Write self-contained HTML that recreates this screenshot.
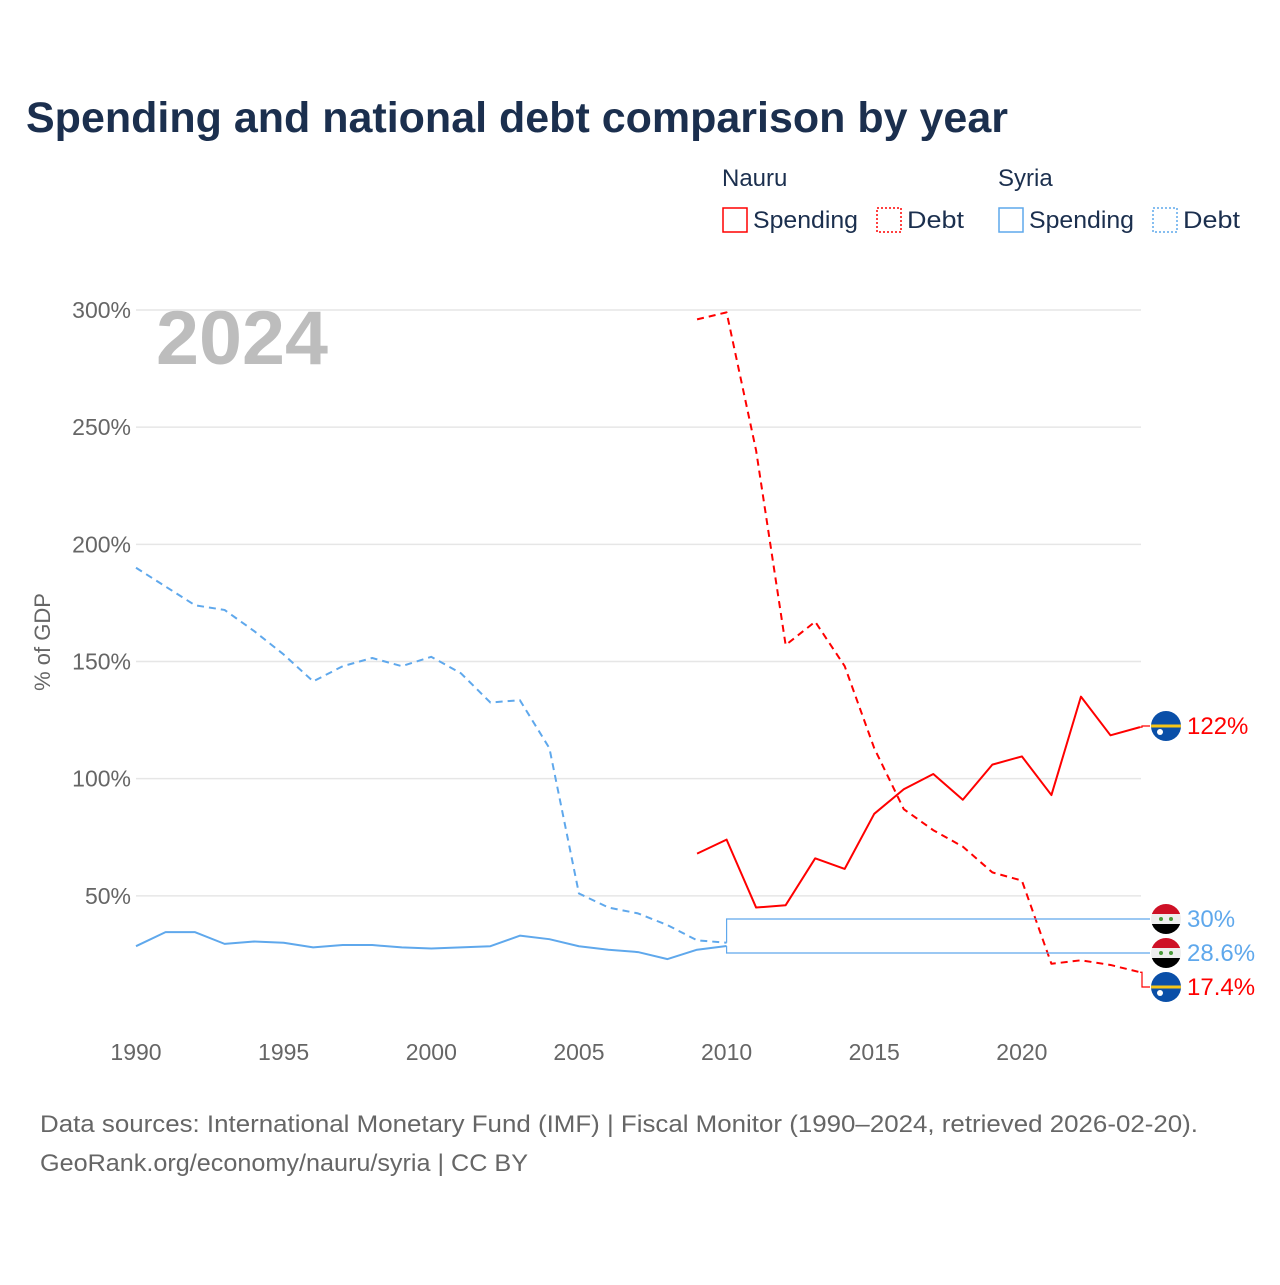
<!DOCTYPE html>
<html><head><meta charset="utf-8"><style>
body{margin:0;background:#fff;font-family:"Liberation Sans",sans-serif;}
svg text{font-family:"Liberation Sans",sans-serif;}
</style></head><body>
<svg id="chart" width="1280" height="1280" xmlns="http://www.w3.org/2000/svg">
<text x="26" y="132" font-size="43" font-weight="bold" fill="#1b2f4e" textLength="982" lengthAdjust="spacingAndGlyphs">Spending and national debt comparison by year</text>
<g font-size="24" fill="#1b2f4e">
<text x="722" y="186">Nauru</text>
<text x="998" y="186">Syria</text>
<g><rect x="723" y="208" width="24" height="24" fill="none" stroke="#f00" stroke-width="1.5"/><text x="753" y="228" textLength="105" lengthAdjust="spacingAndGlyphs">Spending</text></g>
<g><rect x="877" y="208" width="24" height="24" fill="none" stroke="#f00" stroke-width="1.5" stroke-dasharray="2,2"/><text x="907" y="228" textLength="57" lengthAdjust="spacingAndGlyphs">Debt</text></g>
<g><rect x="999" y="208" width="24" height="24" fill="none" stroke="#5fa8ec" stroke-width="1.5"/><text x="1029" y="228" textLength="105" lengthAdjust="spacingAndGlyphs">Spending</text></g>
<g><rect x="1153" y="208" width="24" height="24" fill="none" stroke="#5fa8ec" stroke-width="1.5" stroke-dasharray="2,2"/><text x="1183" y="228" textLength="57" lengthAdjust="spacingAndGlyphs">Debt</text></g>
</g>
<text x="156" y="364" font-size="76" font-weight="bold" fill="#bdbdbd" textLength="172" lengthAdjust="spacingAndGlyphs">2024</text>
<g id="grid"></g><g id="axes"></g><g id="series"></g><g id="labels"></g>
<text transform="translate(50,642) rotate(-90)" text-anchor="middle" font-size="22" fill="#666">% of GDP</text>
<text x="40" y="1132" font-size="24" fill="#666" textLength="1158" lengthAdjust="spacingAndGlyphs">Data sources: International Monetary Fund (IMF) | Fiscal Monitor (1990–2024, retrieved 2026-02-20).</text>
<text x="40" y="1171" font-size="24" fill="#666" textLength="488" lengthAdjust="spacingAndGlyphs">GeoRank.org/economy/nauru/syria | CC BY</text>
</svg>
<script>
const yTicks=[50,100,150,200,250,300];
const xTicks=[1990,1995,2000,2005,2010,2015,2020];
const syriaYears=[1990,1991,1992,1993,1994,1995,1996,1997,1998,1999,2000,2001,2002,2003,2004,2005,2006,2007,2008,2009,2010];
const syriaDebt=[190,182,174,172,163,153,141.5,148,151.5,148,152,145,132.5,133.5,113,51,45,42.5,37.5,31,30];
const syriaSpending=[28.5,34.5,34.5,29.5,30.5,30,28,29,29,28,27.5,28,28.5,33,31.5,28.5,27,26,23,27,28.6];
const nauruYears=[2009,2010,2011,2012,2013,2014,2015,2016,2017,2018,2019,2020,2021,2022,2023,2024];
const nauruSpending=[68,74,45,46,66,61.5,85,95.5,102,91,106,109.5,93,135,118.5,122];
const nauruDebt=[296,299,240,157,167,148,113,87,78,71,60,56.5,21,22.5,20.5,17.4];
const NS='http://www.w3.org/2000/svg';
const X=y=>136+(y-1990)*(1140-136)/34;
const Y=v=>1013-v*(1013-310)/300;
function mk(tag,attrs,parent){const e=document.createElementNS(NS,tag);for(const k in attrs)e.setAttribute(k,attrs[k]);document.getElementById(parent).appendChild(e);return e;}
yTicks.forEach(t=>{
 const l=mk('line',{x1:136,x2:1141,y1:Y(t),y2:Y(t),stroke:'#e6e6e6','stroke-width':1.5},'grid');
 
 
 const tx=mk('text',{x:131,y:Y(t)+8,'text-anchor':'end','font-size':23,fill:'#666'},'axes');
 tx.textContent=t+'%';
 
 
});
xTicks.forEach(t=>{
 const tx=mk('text',{x:X(t),y:1060,'text-anchor':'middle','font-size':23,fill:'#666'},'axes');
 tx.textContent=t;
 
 
});
function line(years,vals,color,dash,name){
 const p=mk('polyline',{points:years.map((y,i)=>X(y)+','+Y(vals[i])).join(' '),fill:'none',stroke:color,'stroke-width':2,'stroke-dasharray':dash||'none','stroke-linejoin':'round'},'series');
 
 
}
line(syriaYears,syriaDebt,'#5fa8ec','7,5','line-syria-debt');
line(syriaYears,syriaSpending,'#5fa8ec','','line-syria-spending');
line(nauruYears,nauruSpending,'#f00','','line-nauru-spending');
line(nauruYears,nauruDebt,'#f00','7,5','line-nauru-debt');
const ends=[
 {yr:2024,v:nauruSpending[nauruSpending.length-1],ly:726,c:'#f00',txt:'122%',flag:'nauru',n:'label-nauru-spending'},
 {yr:2010,v:syriaDebt[syriaDebt.length-1],ly:919,c:'#5fa8ec',txt:'30%',flag:'syria',n:'label-syria-debt'},
 {yr:2010,v:syriaSpending[syriaSpending.length-1],ly:953,c:'#5fa8ec',txt:'28.6%',flag:'syria',n:'label-syria-spending'},
 {yr:2024,v:nauruDebt[nauruDebt.length-1],ly:987,c:'#f00',txt:'17.4%',flag:'nauru',n:'label-nauru-debt'}];
ends.forEach(e=>{
 const x0=X(e.yr),y0=Y(e.v),xm=x0===X(2024)?1142:x0;
 const p=mk('polyline',{points:`${x0},${y0} ${xm},${y0} ${xm},${e.ly} 1150,${e.ly}`,fill:'none',stroke:e.c,'stroke-width':1.2},'labels');
 
 
 const g=mk('g',{},'labels');
 
 
 const cx=1166,cy=e.ly,r=15;
 const cid='c'+e.n;
 const cp=document.createElementNS(NS,'clipPath');cp.setAttribute('id',cid);
 const cc=document.createElementNS(NS,'circle');cc.setAttribute('cx',cx);cc.setAttribute('cy',cy);cc.setAttribute('r',r);cp.appendChild(cc);g.appendChild(cp);
 const fg=document.createElementNS(NS,'g');fg.setAttribute('clip-path',`url(#${cid})`);g.appendChild(fg);
 const add=(t,a)=>{const el=document.createElementNS(NS,t);for(const k in a)el.setAttribute(k,a[k]);fg.appendChild(el);};
 if(e.flag==='nauru'){
  add('rect',{x:cx-r,y:cy-r,width:30,height:30,fill:'#0a4fa8'});
  add('rect',{x:cx-r,y:cy-1.5,width:30,height:3,fill:'#f5c518'});
  add('circle',{cx:cx-6,cy:cy+6,r:3,fill:'#fff'});
 }else{
  add('rect',{x:cx-r,y:cy-r,width:30,height:10,fill:'#ce1126'});
  add('rect',{x:cx-r,y:cy-5,width:30,height:10,fill:'#eee'});
  add('rect',{x:cx-r,y:cy+5,width:30,height:10,fill:'#000'});
  add('circle',{cx:cx-5,cy:cy,r:2,fill:'#4a9a3a'});
  add('circle',{cx:cx+5,cy:cy,r:2,fill:'#4a9a3a'});
 }
 const t=document.createElementNS(NS,'text');
 t.setAttribute('x',1187);t.setAttribute('y',e.ly+8);t.setAttribute('font-size',24);t.setAttribute('fill',e.c);
 t.textContent=e.txt;g.appendChild(t);
});
</script>
</body></html>
